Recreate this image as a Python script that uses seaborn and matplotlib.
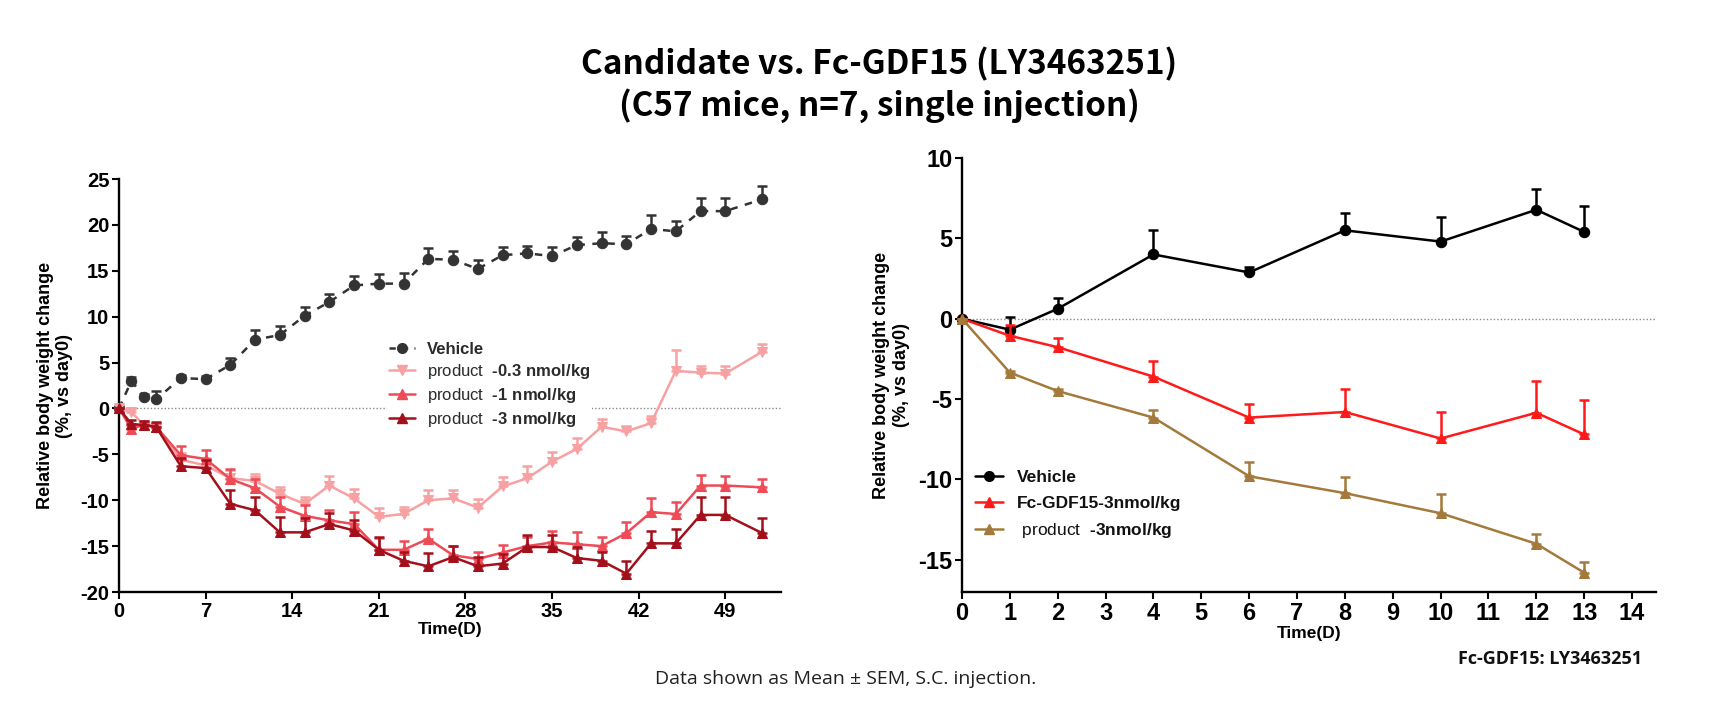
import matplotlib
matplotlib.use("Agg")
import matplotlib.pyplot as plt
from matplotlib.lines import Line2D
import seaborn as sns
import numpy as np

# ---------------- data ----------------
left_days = [0, 1, 2, 3, 5, 7, 9, 11, 13, 15, 17, 19, 21, 23, 25, 27, 29, 31, 33, 35,
             37, 39, 41, 43, 45, 47, 49, 52]
veh_left = [0, 3.0, 1.3, 1.0, 3.3, 3.2, 4.75, 7.5, 8.0, 10.1, 11.6, 13.4, 13.6, 13.6,
            16.3, 16.2, 15.2, 16.7, 16.9, 16.6, 17.8, 18.0, 17.9, 19.55, 19.3, 21.5, 21.5, 22.8]
veh_left_err = [0, 0.4, 0.3, 0.9, 0.3, 0.3, 0.7, 1.0, 1.0, 1.0, 0.9, 1.0, 1.05, 1.2,
                1.15, 1.0, 0.95, 0.9, 0.8, 0.95, 0.85, 1.25, 0.85, 1.5, 1.1, 1.45, 1.45, 1.45]
pink_left = [0, -0.4, -1.8, -2.1, -5.6, -6.2, -7.6, -7.9, -9.3, -10.4, -8.4, -9.8, -11.8, -11.5,
             -10.0, -9.8, -10.8, -8.5, -7.6, -5.8, -4.4, -2.0, -2.5, -1.6, 4.1, 3.9, 3.8, 6.2]
pink_left_err = [0, 0.3, 0.3, 0.5, 0.7, 0.8, 0.9, 0.8, 0.7, 0.8, 1.0, 1.0, 1.0, 0.8,
                 1.1, 0.9, 0.9, 1.0, 1.3, 1.1, 1.2, 0.9, 0.6, 0.8, 2.3, 0.7, 0.8, 0.8]
red_left = [0, -2.2, -1.8, -2.0, -5.1, -5.5, -7.7, -8.7, -10.7, -11.7, -12.2, -12.6, -15.4, -15.4,
            -14.2, -16.0, -16.4, -15.7, -15.0, -14.6, -14.8, -15.0, -13.6, -11.3, -11.5, -8.4, -8.4, -8.6]
red_left_err = [0, 0.4, 0.3, 0.4, 1.0, 1.0, 1.1, 1.0, 1.0, 1.2, 1.1, 1.3, 1.3, 1.0,
                1.1, 1.0, 0.8, 0.8, 1.0, 1.2, 1.3, 1.0, 1.2, 1.5, 1.3, 1.1, 1.0, 0.9]
dark_left = [0, -1.7, -1.8, -2.0, -6.3, -6.5, -10.4, -11.1, -13.5, -13.5, -12.6, -13.3, -15.4, -16.6,
             -17.2, -16.2, -17.2, -16.9, -15.1, -15.1, -16.3, -16.6, -18.0, -14.7, -14.7, -11.6, -11.6, -13.6]
dark_left_err = [0, 0.4, 0.4, 0.5, 0.9, 0.9, 1.5, 1.5, 1.7, 1.6, 1.2, 1.1, 1.4, 1.0,
                 1.5, 1.2, 1.0, 1.0, 1.3, 1.3, 1.2, 1.0, 1.4, 1.4, 1.6, 1.9, 1.9, 1.7]

right_days = [0, 1, 2, 4, 6, 8, 10, 12, 13]
veh_right = [0, -0.68, 0.62, 4.0, 2.88, 5.5, 4.8, 6.78, 5.4]
veh_right_err = [0, 0.8, 0.7, 1.5, 0.35, 1.1, 1.5, 1.3, 1.6]
fc_right = [0, -1.06, -1.77, -3.6, -6.15, -5.8, -7.45, -5.85, -7.2]
fc_right_err = [0, 0.7, 0.6, 1.0, 0.83, 1.45, 1.65, 2.0, 2.15]
prod_right = [0, -3.35, -4.5, -6.15, -9.8, -10.85, -12.1, -14.0, -15.8]
prod_right_err = [0, 0.1, 0.1, 0.45, 0.9, 1.0, 1.2, 0.6, 0.65]

left_xticks = [0, 7, 14, 21, 28, 35, 42, 49]
left_yticks = [-20, -15, -10, -5, 0, 5, 10, 15, 20, 25]
right_xticks = list(range(0, 15))
right_yticks = [-15, -10, -5, 0, 5, 10]

title1 = "Candidate vs. Fc-GDF15 (LY3463251)"
title2 = "(C57 mice, n=7, single injection)"
footer = "Data shown as Mean \u00b1 SEM, S.C. injection."
note = "Fc-GDF15: LY3463251"
ylabel = "Relative body weight change\n(%, vs day0)"
xlabel = "Time(D)"
left_labels = ["Vehicle", "-0.3 nmol/kg", "-1 nmol/kg", "-3 nmol/kg"]
right_labels = ["Vehicle", "Fc-GDF15-3nmol/kg", "-3nmol/kg"]
prefix = "product"

# ---------------- style ----------------
sns.set_theme(style="ticks")
plt.rcParams['font.family'] = ['Liberation Sans', 'DejaVu Sans']
plt.rcParams['mathtext.fontset'] = 'custom'
plt.rcParams['mathtext.rm'] = 'Liberation Sans'
plt.rcParams['mathtext.bf'] = 'Liberation Sans:bold'
plt.rcParams['mathtext.fallback'] = None
plt.rcParams['axes.unicode_minus'] = False
plt.rcParams['text.color'] = 'black'
plt.rcParams['axes.labelcolor'] = 'black'
plt.rcParams['xtick.color'] = 'black'
plt.rcParams['ytick.color'] = 'black'

fig = plt.figure(figsize=(17.17, 7.06), dpi=100)
W, H = 1717, 706

def px_axes(x0, x1, ytop, ybot):
    return fig.add_axes([x0 / W, (H - ybot) / H, (x1 - x0) / W, (ybot - ytop) / H])

axL = px_axes(119, 781, 179, 592)
axR = px_axes(962, 1656, 158, 592)

def style_axis(ax, fs):
    for s in ['top', 'right']:
        ax.spines[s].set_visible(False)
    for s in ['left', 'bottom']:
        ax.spines[s].set_linewidth(1.7)
        ax.spines[s].set_color('black')
    ax.tick_params(axis='both', width=1.5, length=5, direction='out', color='black',
                   labelcolor='black', labelsize=fs, pad=2)
    for lab in ax.get_xticklabels() + ax.get_yticklabels():
        lab.set_fontweight('bold')
    ax.grid(False)

def draw_series(ax, x, y, err, color, marker, ls, ms, lw, label):
    sns.lineplot(x=x, y=y, ax=ax, color=color, marker=marker, markersize=ms,
                 markeredgecolor=color, linewidth=lw, linestyle=ls, label=label,
                 clip_on=False, zorder=3, legend=False)
    ax.errorbar(x, y, yerr=[np.zeros(len(err)), err], fmt='none', ecolor=color,
                elinewidth=lw, capsize=3.5, capthick=lw, clip_on=False, zorder=3)

def bold_part(s):
    # hyphen (U+2010) keeps a short dash inside mathtext
    s = s.replace('-', '\u2010').replace(' ', r'\ ')
    return r'$\mathbf{' + s + '}$'

# ---------------- left panel ----------------
c_veh = '#333333'
c_pink = '#F7A1A3'
c_red = '#EE4B56'
c_dark = '#A3101C'

axL.axhline(0, color='#8a8a8a', lw=1.0, ls=(0, (1, 1.5)), zorder=1)
draw_series(axL, left_days, veh_left, veh_left_err, c_veh, 'o', (0, (3, 3)), 7.5, 1.8, 'Vehicle')
draw_series(axL, left_days, pink_left, pink_left_err, c_pink, 'v', '-', 7.5, 1.8, 'p03')
draw_series(axL, left_days, red_left, red_left_err, c_red, '^', '-', 7.5, 1.8, 'p1')
draw_series(axL, left_days, dark_left, dark_left_err, c_dark, '^', '-', 7.5, 1.8, 'p3')

axL.set_xlim(0, 53.5)
axL.set_ylim(-20, 25)
axL.set_xticks(left_xticks)
axL.set_yticks(left_yticks)
axL.set_xticklabels([str(t) for t in left_xticks])
axL.set_yticklabels([str(t) for t in left_yticks])
style_axis(axL, 14.5)
axL.set_xlabel(xlabel, fontsize=12.5, fontweight='bold', labelpad=1)
axL.set_ylabel(ylabel, fontsize=13, fontweight='bold', labelpad=5)

hL = [Line2D([], [], color=c_veh, marker='o', ls=(0, (2.5, 2.5)), lw=1.8, ms=7),
      Line2D([], [], color=c_pink, marker='v', ls='-', lw=1.8, ms=7),
      Line2D([], [], color=c_red, marker='^', ls='-', lw=1.8, ms=7),
      Line2D([], [], color=c_dark, marker='^', ls='-', lw=1.8, ms=7)]
lL = [left_labels[0]] + [prefix + "  " + bold_part(s) for s in left_labels[1:]]
legL = axL.legend(hL, lL, loc='upper left', bbox_to_anchor=(0.405, 0.61), borderpad=0.1,
                  borderaxespad=0, handlelength=1.6, handletextpad=0.7, labelspacing=0.3,
                  fontsize=12, frameon=True, facecolor='white', edgecolor='none',
                  framealpha=1.0, labelcolor='#2a2a2a')
legL.get_frame().set_boxstyle('square', pad=0)
legL.get_texts()[0].set_fontweight('bold')

# ---------------- right panel ----------------
c_rveh = '#000000'
c_rred = '#FF1A1A'
c_brown = '#A47A3C'

axR.axhline(0, color='#8a8a8a', lw=1.0, ls=(0, (1, 1.5)), zorder=1)
draw_series(axR, right_days, veh_right, veh_right_err, c_rveh, 'o', '-', 7.5, 1.8, 'Vehicle')
draw_series(axR, right_days, fc_right, fc_right_err, c_rred, '^', '-', 7.5, 1.8, 'Fc')
draw_series(axR, right_days, prod_right, prod_right_err, c_brown, '^', '-', 7.5, 1.8, 'prod')

axR.set_xlim(0, 14.5)
axR.set_ylim(-17, 10)
axR.set_xticks(right_xticks)
axR.set_yticks(right_yticks)
axR.set_xticklabels([str(t) for t in right_xticks])
axR.set_yticklabels([str(t) for t in right_yticks])
style_axis(axR, 17)
axR.set_xlabel(xlabel, fontsize=12.5, fontweight='bold', labelpad=1)
axR.set_ylabel(ylabel, fontsize=13, fontweight='bold', labelpad=6)

hR = [Line2D([], [], color=c_rveh, marker='o', ls='-', lw=1.8, ms=7),
      Line2D([], [], color=c_rred, marker='^', ls='-', lw=1.8, ms=7),
      Line2D([], [], color=c_brown, marker='^', ls='-', lw=1.8, ms=7)]
lR = [right_labels[0], right_labels[1], " " + prefix + "  " + bold_part(right_labels[2])]
legR = axR.legend(hR, lR, loc='upper left', bbox_to_anchor=(0.016, 0.285), borderpad=0.1,
                  borderaxespad=0, handlelength=1.6, handletextpad=0.8, labelspacing=0.6,
                  fontsize=12.5, frameon=False, labelcolor='#111111')
legR.get_texts()[0].set_fontweight('bold')
legR.get_texts()[1].set_fontweight('bold')

# ---------------- texts ----------------
fig.text(879 / W, 1 - 64 / H, title1, ha='center', va='center', fontsize=24,
         fontweight='bold', family=['Noto Sans CJK SC', 'DejaVu Sans'], color='black')
fig.text(879 / W, 1 - 106 / H, title2, ha='center', va='center', fontsize=24,
         fontweight='bold', family=['Noto Sans CJK SC', 'DejaVu Sans'], color='black')
fig.text(846 / W, 1 - 679 / H, footer, ha='center', va='center', fontsize=14,
         family=['Open Sans', 'DejaVu Sans'], color='#222222')
fig.text(1550 / W, 1 - 659 / H, note, ha='center', va='center', fontsize=13,
         fontweight='bold', family=['Open Sans', 'DejaVu Sans'], color='#111111')

fig.savefig('out.png', dpi=100, facecolor='white')
